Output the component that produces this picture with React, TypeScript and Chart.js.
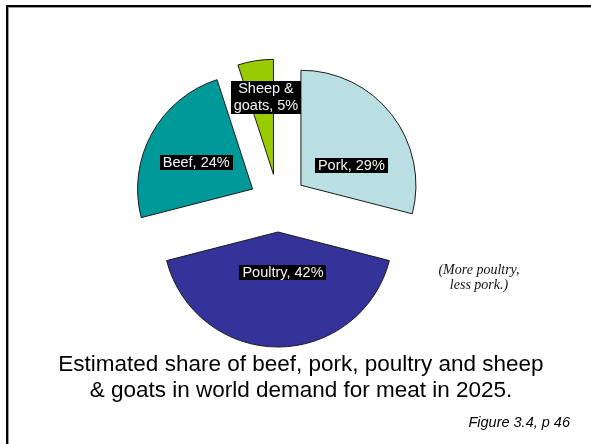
import React, { useEffect, useRef } from "react";
import { Chart, registerables } from "chart.js";

Chart.register(...registerables);

const categories = ["Pork", "Poultry", "Beef", "Sheep & goats"];
const shares = [29, 42, 24, 5];
const labelLines = [["Pork, 29%"], ["Poultry, 42%"], ["Beef, 24%"], ["Sheep &", "goats, 5%"]];
const sliceColors = ["#BADFE2", "#333399", "#009999", "#99CC00"];

const titleLines = [
  "Estimated share of beef, pork, poultry and sheep",
  "& goats in world demand for meat in 2025.",
];
const noteLines = ["(More poultry,", "less pork.)"];
const figureRef = "Figure 3.4, p 46";

// styling / layout
const EXPLODE = 29;
const LABEL_NUDGE: [number, number][] = [
  [5, 15.5],
  [5, -17],
  [-6, 1],
  [1.5, -20.5],
];

const explodePlugin = {
  id: "explodeSlices",
  beforeDatasetDraw(chart: any, args: any) {
    const ctx = chart.ctx;
    args.meta.data.forEach((arc: any) => {
      const { startAngle, endAngle } = arc.getProps(["startAngle", "endAngle"], true);
      const mid = (startAngle + endAngle) / 2;
      ctx.save();
      ctx.translate(Math.cos(mid) * EXPLODE, Math.sin(mid) * EXPLODE);
      arc.draw(ctx, chart.chartArea);
      ctx.restore();
    });
    return false;
  },
};

const labelPlugin = {
  id: "boxLabels",
  afterDatasetsDraw(chart: any) {
    const ctx = chart.ctx;
    const meta = chart.getDatasetMeta(0);
    ctx.save();
    ctx.font = '14.5px "Liberation Sans", Arial, sans-serif';
    ctx.textAlign = "center";
    ctx.textBaseline = "middle";
    meta.data.forEach((arc: any, i: number) => {
      const { x, y, startAngle, endAngle, outerRadius } = arc.getProps(
        ["x", "y", "startAngle", "endAngle", "outerRadius"],
        true
      );
      const mid = (startAngle + endAngle) / 2;
      const cx = x + Math.cos(mid) * (EXPLODE + outerRadius * 0.5) + LABEL_NUDGE[i][0];
      const cy = y + Math.sin(mid) * (EXPLODE + outerRadius * 0.5) + LABEL_NUDGE[i][1];
      const lines = labelLines[i];
      const lineH = 17.5;
      const w = Math.max(...lines.map((l) => ctx.measureText(l).width)) + 6;
      const h = lines.length * lineH - 2.5;
      ctx.fillStyle = "#000";
      ctx.fillRect(Math.round(cx - w / 2), Math.round(cy - h / 2), Math.round(w), Math.round(h));
      ctx.fillStyle = "#F4F4F4";
      lines.forEach((l, k) => {
        ctx.fillText(l, cx, cy - ((lines.length - 1) * lineH) / 2 + k * lineH + 0.5);
      });
    });
    ctx.restore();
  },
};

export default function App() {
  const ref = useRef<HTMLCanvasElement | null>(null);
  useEffect(() => {
    if (!ref.current) return;
    const chart = new Chart(ref.current, {
      type: "pie",
      data: {
        labels: categories,
        datasets: [
          {
            data: shares,
            backgroundColor: sliceColors,
            borderColor: "#1a1a1a",
            borderWidth: 1,
          },
        ],
      },
      options: {
        responsive: false,
        animation: false,
        radius: 115,
        layout: { padding: { left: 158, right: 193, top: 83, bottom: 121 } },
        plugins: {
          legend: { display: false },
          tooltip: { enabled: false },
          title: { display: false },
        },
        events: [],
      } as any,
      plugins: [explodePlugin, labelPlugin],
    });
    return () => chart.destroy();
  }, []);

  return (
    <div
      style={{
        position: "fixed",
        left: 0,
        top: 0,
        width: 591,
        height: 444,
        overflow: "hidden",
        background: "#fff",
      }}
    >
      <div
        style={{
          position: "absolute",
          left: 6,
          top: 5,
          width: 700,
          height: 600,
          borderLeft: "2px solid #000",
          borderTop: "2px solid #000",
          boxShadow: "inset 1px 1px 0 #9a9a9a",
        }}
      />
      <canvas
        ref={ref}
        width={591}
        height={444}
        style={{ position: "absolute", left: 0, top: 0, width: 591, height: 444 }}
      />
      <div
        style={{
          position: "absolute",
          left: 0,
          top: 350.5,
          width: 602,
          textAlign: "center",
          fontFamily: '"Liberation Sans", Arial, sans-serif',
          fontSize: 22.5,
          lineHeight: "26.5px",
          color: "#000",
          whiteSpace: "nowrap",
        }}
      >
        {titleLines.map((t, i) => (
          <div key={i}>{t}</div>
        ))}
      </div>
      <div
        style={{
          position: "absolute",
          left: 409,
          top: 263,
          width: 140,
          textAlign: "center",
          fontFamily: '"Liberation Serif", "Times New Roman", serif',
          fontStyle: "italic",
          fontSize: 14,
          lineHeight: "14.5px",
          color: "#111",
          whiteSpace: "nowrap",
        }}
      >
        {noteLines.map((t, i) => (
          <div key={i}>{t}</div>
        ))}
      </div>
      <div
        style={{
          position: "absolute",
          right: 21,
          top: 414,
          fontFamily: '"Liberation Sans", Arial, sans-serif',
          fontStyle: "italic",
          fontSize: 14.5,
          lineHeight: "17px",
          color: "#000",
          whiteSpace: "nowrap",
        }}
      >
        {figureRef}
      </div>
    </div>
  );
}
